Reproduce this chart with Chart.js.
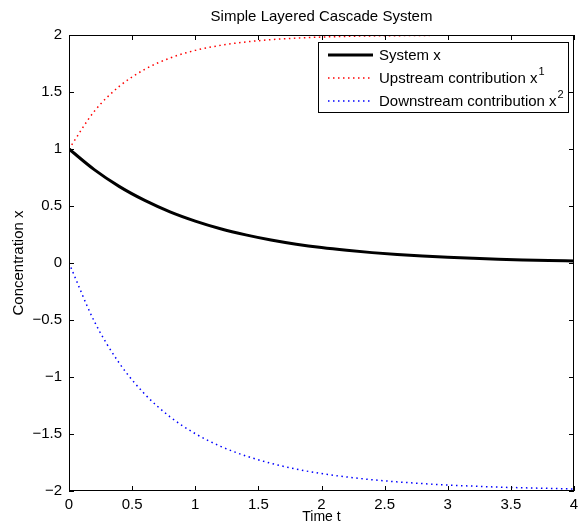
<!DOCTYPE html>
<html>
<head>
<meta charset="utf-8">
<script src="https://cdn.jsdelivr.net/npm/chart.js@4.4.0/dist/chart.umd.min.js"></script>
<style>
  html, body { margin: 0; padding: 0; background: #fff; }
  #wrap { width: 578px; height: 527px; }
</style>
</head>
<body>
<div id="wrap"><canvas id="chart" width="578" height="527"></canvas></div>
<script>
// values
const times = [0, 0.2, 0.4, 0.6, 0.8, 1.0, 1.2, 1.4, 1.6, 1.8, 2.0, 2.2, 2.4, 2.6, 2.8, 3.0, 3.2, 3.4, 3.6, 3.8, 4.0];
const systemX = [1.000, 0.819, 0.670, 0.549, 0.449, 0.368, 0.301, 0.247, 0.202, 0.165, 0.135, 0.111, 0.091, 0.074, 0.061, 0.050, 0.041, 0.033, 0.027, 0.022, 0.018];
const upstream = [1.000, 1.330, 1.551, 1.699, 1.798, 1.865, 1.909, 1.939, 1.959, 1.973, 1.982, 1.988, 1.992, 1.994, 1.996, 1.998, 1.998, 1.999, 1.999, 1.999, 2.000];
const downstream = [0.000, -0.511, -0.881, -1.150, -1.349, -1.497, -1.608, -1.692, -1.757, -1.808, -1.847, -1.877, -1.901, -1.920, -1.935, -1.948, -1.957, -1.966, -1.972, -1.977, -1.982];
const xTicks = [0, 0.5, 1, 1.5, 2, 2.5, 3, 3.5, 4];
const yTicks = [-2, -1.5, -1, -0.5, 0, 0.5, 1, 1.5, 2];

const FONT = '"Liberation Sans", Arial, Helvetica, sans-serif';

function pts(ys) {
    return times.map((t, i) => ({ x: t, y: ys[i] }));
}

function fmt(v) {
    return String(v).replace('-', '\u2212');
}

// box, inward ticks, titles and the legend (legend needs superscripts)
const matlabFrame = {
    id: 'matlabFrame',
    afterDraw(chart) {
        const { ctx, chartArea: a, scales } = chart;
        ctx.save();
        ctx.strokeStyle = '#000';
        ctx.lineWidth = 1;
        ctx.strokeRect(a.left + 0.5, a.top + 0.5, a.right - a.left - 1, a.bottom - a.top - 1);
        ctx.beginPath();
        xTicks.forEach(v => {
            const x = Math.round(scales.x.getPixelForValue(v)) + 0.5;
            ctx.moveTo(x, a.bottom); ctx.lineTo(x, a.bottom - 5);
            ctx.moveTo(x, a.top); ctx.lineTo(x, a.top + 5);
        });
        yTicks.forEach(v => {
            const y = Math.round(scales.y.getPixelForValue(v)) + 0.5;
            ctx.moveTo(a.left, y); ctx.lineTo(a.left + 5, y);
            ctx.moveTo(a.right, y); ctx.lineTo(a.right - 5, y);
        });
        ctx.stroke();

        ctx.fillStyle = '#000';
        ctx.textAlign = 'center';
        ctx.textBaseline = 'middle';
        ctx.font = '15px ' + FONT;
        ctx.fillText('Simple Layered Cascade System', (a.left + a.right) / 2, 17);
        ctx.font = '14px ' + FONT;
        ctx.fillText('Time t', (a.left + a.right) / 2, 517);
        ctx.save();
        ctx.translate(19, (a.top + a.bottom) / 2);
        ctx.rotate(-Math.PI / 2);
        ctx.font = '15px ' + FONT;
        ctx.fillText('Concentration x', 0, 0);
        ctx.restore();

        // legend
        const lx = 318, ly = 42, lw = 250, lh = 70;
        ctx.fillStyle = '#fff';
        ctx.fillRect(lx, ly, lw, lh);
        ctx.strokeRect(lx + 0.5, ly + 0.5, lw, lh);
        const rows = [
            { text: 'System x', sup: '', color: '#000', width: 3, dash: [] },
            { text: 'Upstream contribution x', sup: '1', color: '#ff0000', width: 1.5, dash: [1.5, 3.5] },
            { text: 'Downstream contribution x', sup: '2', color: '#0000ff', width: 1.5, dash: [1.5, 3.5] }
        ];
        rows.forEach((r, i) => {
            const y = ly + 13 + i * 23;
            ctx.beginPath();
            ctx.setLineDash(r.dash);
            ctx.strokeStyle = r.color;
            ctx.lineWidth = r.width;
            ctx.moveTo(328, y); ctx.lineTo(373, y);
            ctx.stroke();
            ctx.setLineDash([]);
            ctx.fillStyle = '#000';
            ctx.font = '15px ' + FONT;
            ctx.textAlign = 'left';
            ctx.fillText(r.text, 379, y + 1);
            if (r.sup) {
                const w = ctx.measureText(r.text).width;
                ctx.font = '11px ' + FONT;
                ctx.fillText(r.sup, 379 + w + 1, y - 6);
            }
        });
        ctx.restore();
    }
};

new Chart(document.getElementById('chart'), {
    type: 'line',
    data: {
        datasets: [
            {
                label: 'System x',
                data: pts(systemX),
                borderColor: '#000',
                borderWidth: 3,
                pointRadius: 0,
                cubicInterpolationMode: 'monotone'
            },
            {
                label: 'Upstream contribution x1',
                data: pts(upstream),
                borderColor: '#ff0000',
                borderWidth: 1.5,
                borderDash: [1.5, 3.5],
                pointRadius: 0,
                cubicInterpolationMode: 'monotone'
            },
            {
                label: 'Downstream contribution x2',
                data: pts(downstream),
                borderColor: '#0000ff',
                borderWidth: 1.5,
                borderDash: [1.5, 3.5],
                pointRadius: 0,
                cubicInterpolationMode: 'monotone'
            }
        ]
    },
    options: {
        responsive: false,
        animation: false,
        layout: { padding: { left: 0, right: 4, top: 35, bottom: 0 } },
        plugins: {
            legend: { display: false },
            tooltip: { enabled: false }
        },
        scales: {
            x: {
                type: 'linear',
                min: 0,
                max: 4,
                afterFit: s => { s.height = 36; s.paddingLeft = 0; s.paddingRight = 0; },
                afterBuildTicks: s => { s.ticks = xTicks.map(v => ({ value: v })); },
                grid: { display: true, drawOnChartArea: false, drawTicks: false },
                border: { display: false },
                ticks: {
                    color: '#000',
                    padding: 5,
                    maxRotation: 0,
                    font: { family: FONT, size: 15 },
                    callback: v => fmt(v)
                }
            },
            y: {
                type: 'linear',
                min: -2,
                max: 2,
                afterFit: s => { s.width = 69; },
                afterBuildTicks: s => { s.ticks = yTicks.map(v => ({ value: v })); },
                grid: { display: true, drawOnChartArea: false, drawTicks: false },
                border: { display: false },
                ticks: {
                    color: '#000',
                    padding: 7,
                    font: { family: FONT, size: 15 },
                    callback: v => fmt(v)
                }
            }
        }
    },
    plugins: [matlabFrame]
});
</script>
</body>
</html>
